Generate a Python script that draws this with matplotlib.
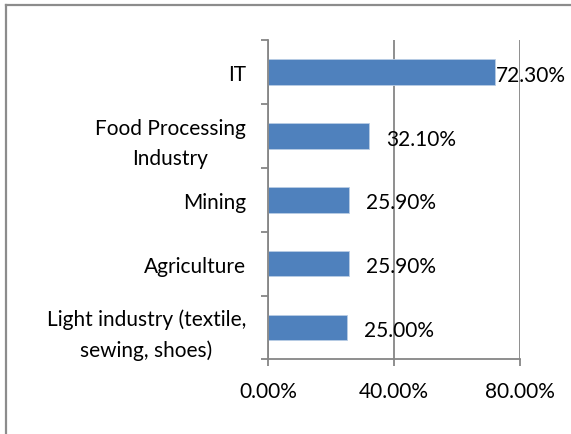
import matplotlib
matplotlib.use("Agg")
import matplotlib.pyplot as plt
from matplotlib.lines import Line2D

categories = ["IT", "Food Processing\nIndustry", "Mining", "Agriculture",
              "Light industry (textile,\nsewing, shoes)"]
values = [72.3, 32.1, 25.9, 25.9, 25.0]
value_labels = ["72.30%", "32.10%", "25.90%", "25.90%", "25.00%"]
x_ticks = [0, 40, 80]
x_tick_labels = ["0.00%", "40.00%", "80.00%"]

plt.rcParams['font.family'] = ['Lato', 'DejaVu Sans']

W, H = 571, 435
fig = plt.figure(figsize=(W / 100, H / 100), dpi=100)
fig.patch.set_facecolor('white')

# chart border (top and left edges visible)
bc = '#8c8c8c'
fig.add_artist(Line2D([5.5 / W, 5.5 / W], [0, 1 - 5.5 / H], transform=fig.transFigure,
                      color=bc, lw=1.6))
fig.add_artist(Line2D([5.5 / W, 1], [1 - 5.5 / H, 1 - 5.5 / H], transform=fig.transFigure,
                      color=bc, lw=1.6))

ax = fig.add_axes([268 / W, (H - 360.3) / H, (519.5 - 268) / W, (360.3 - 41.3) / H])

n = len(categories)
ypos = list(range(n))
ax.barh(ypos, values, height=0.40, color='#4F81BD', edgecolor='#b9cde5',
        linewidth=0.6, zorder=3)

ax.set_xlim(0, 80)
ax.set_ylim(n - 0.5, -0.5)

axc = '#868686'
ax.set_xticks(x_ticks)
ax.set_xticklabels(x_tick_labels, fontsize=15)
ax.set_yticks(ypos)
ax.set_yticklabels(categories, fontsize=15)
for lab in ax.get_yticklabels():
    lab.set_multialignment('center')
    lab.set_linespacing(1.6)

# category boundary ticks
ax.set_yticks([i - 0.5 for i in range(n + 1)], minor=True)
ax.tick_params(axis='y', which='major', length=0, pad=22 * 0.72)
ax.tick_params(axis='y', which='minor', length=5, width=1.3, color=axc)
ax.tick_params(axis='x', which='major', length=5, width=1.3, color=axc, pad=10.5)

ax.grid(axis='x', color=axc, lw=1.3, zorder=1)
for s in ['top', 'right']:
    ax.spines[s].set_visible(False)
for s in ['left', 'bottom']:
    ax.spines[s].set_color(axc)
    ax.spines[s].set_linewidth(1.3)
    ax.spines[s].set_zorder(4)

for y, v, t in zip(ypos, values, value_labels):
    xl = min(v + 5.4, 72.6)
    ax.text(xl, y + 0.04, t, va='center', ha='left', fontsize=15, zorder=5)

fig.savefig('out.png', dpi=100)
